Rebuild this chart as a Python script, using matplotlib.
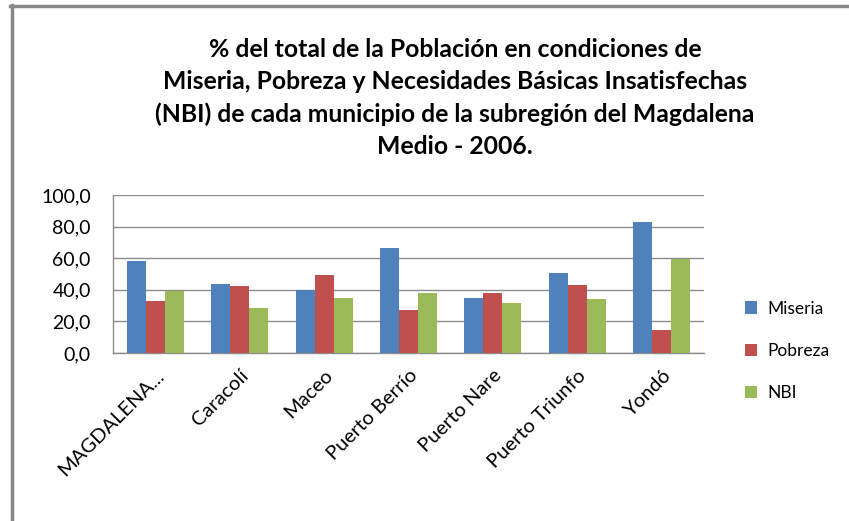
import matplotlib
matplotlib.use("Agg")
import matplotlib.pyplot as plt
import numpy as np
from matplotlib.lines import Line2D

categories = ["MAGDALENA...", "Caracolí", "Maceo", "Puerto Berrío", "Puerto Nare", "Puerto Triunfo", "Yondó"]
miseria = [58.2, 43.7, 39.9, 66.5, 34.8, 50.6, 82.9]
pobreza = [32.9, 42.4, 49.4, 27.2, 38.0, 43.0, 14.6]
nbi = [39.2, 28.5, 34.8, 38.0, 31.6, 34.2, 59.5]
series_names = ["Miseria", "Pobreza", "NBI"]
colors = ["#4F81BD", "#C0504D", "#9BBB59"]
yticks = [0, 20, 40, 60, 80, 100]
title = ("% del total de la Población en condiciones de\n"
         "Miseria, Pobreza y Necesidades Básicas Insatisfechas\n"
         "(NBI) de cada municipio de la subregión del Magdalena\n"
         "Medio - 2006.")

plt.rcParams['font.family'] = ['Lato', 'DejaVu Sans']

W, H = 849, 521
fig = plt.figure(figsize=(W / 100, H / 100), dpi=100)
ax = fig.add_axes([113 / W, 1 - 353 / H, (704 - 113) / W, (353 - 195) / H])

x = np.arange(len(categories))
bw = 0.225
handles = []
for i, (vals, c, name) in enumerate(zip([miseria, pobreza, nbi], colors, series_names)):
    b = ax.bar(x + (i - 1) * bw, vals, width=bw, color=c, label=name, zorder=3)
    handles.append(b)

ax.set_xlim(-0.5, len(categories) - 0.5)
ax.set_ylim(0, 100)
ax.set_yticks(yticks)
ax.set_yticklabels([f"{v:.1f}".replace(".", ",") for v in yticks], fontsize=14)
ax.yaxis.grid(True, color="#8c8c8c", linewidth=1, zorder=0)
ax.set_axisbelow(True)
ax.tick_params(axis='both', length=0)
ax.tick_params(axis='y', pad=16)
ax.set_xticks(x)
ax.set_xticklabels(categories, rotation=45, ha='right', rotation_mode='anchor', fontsize=14.5)
ax.tick_params(axis='x', pad=10)
for s in ["top", "right"]:
    ax.spines[s].set_visible(False)
for s in ["left", "bottom"]:
    ax.spines[s].set_color("#8c8c8c")
    ax.spines[s].set_linewidth(1)

fig.text(455 / W, 1 - 98 / H, title, ha='center', va='center', fontsize=17.8,
         fontweight='bold', linespacing=1.49)

ax.legend(handles=handles, loc='upper left', bbox_to_anchor=(729 / W, 1 - 285 / H),
          bbox_transform=fig.transFigure, frameon=False, fontsize=12.5,
          handlelength=0.7, handleheight=0.7, labelspacing=1.5, handletextpad=0.6)

# outer frame
fig.add_artist(Line2D([11.5 / W, 11.5 / W], [0, 1 - 5 / H], transform=fig.transFigure,
                      color="#878787", linewidth=2.5))
fig.add_artist(Line2D([10 / W, 1], [1 - 5.5 / H, 1 - 5.5 / H], transform=fig.transFigure,
                      color="#878787", linewidth=2.5))

fig.savefig("out.png", dpi=100)
